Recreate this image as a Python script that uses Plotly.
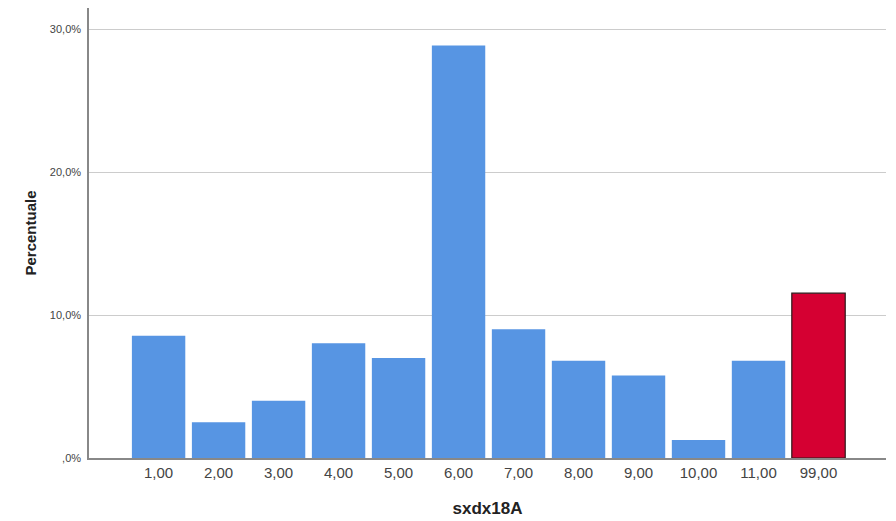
import plotly.graph_objects as go

categories = ["1,00", "2,00", "3,00", "4,00", "5,00", "6,00", "7,00", "8,00", "9,00", "10,00", "11,00", "99,00"]
percentages = [8.55, 2.5, 4.0, 8.04, 7.0, 28.87, 9.02, 6.8, 5.77, 1.26, 6.8, 11.54]
y_tick_vals = [0, 10, 20, 30]
y_tick_text = [",0%", "10,0%", "20,0%", "30,0%"]

blue = "#5795E3"
red = "#D50032"
colors = [blue] * 11 + [red]
line_colors = [blue] * 11 + ["#2a1a1a"]
line_widths = [0] * 11 + [1.2]

fig = go.Figure(go.Bar(
    x=categories,
    y=percentages,
    marker=dict(color=colors, line=dict(color=line_colors, width=line_widths)),
    hoverinfo="skip",
))

fig.update_layout(
    width=896, height=521,
    margin=dict(l=81, r=18, t=0, b=71, autoexpand=False),
    paper_bgcolor="white", plot_bgcolor="white",
    bargap=0.11,
    showlegend=False,
    font=dict(family="Liberation Sans, Arial, sans-serif", color="#333333"),
)

fig.update_xaxes(
    type="category",
    range=[-1.16, 12.125],
    showline=True, linecolor="#888888", linewidth=1.5,
    showgrid=False, ticks="",
    tickfont=dict(size=15, color="#444444"),
    title=dict(text="<b>sxdx18A</b>", font=dict(size=17, color="#222222"), standoff=22),
)
fig.update_yaxes(
    range=[0, 31.5],
    tickvals=y_tick_vals, ticktext=y_tick_text,
    showline=True, linecolor="#888888", linewidth=1.5,
    showgrid=True, gridcolor="#CCCCCC", gridwidth=1.2,
    zeroline=False, ticks="outside", ticklen=4, tickcolor="white",
    tickfont=dict(size=11, color="#444444"),
    title=dict(text="<b>Percentuale</b>", font=dict(size=15, color="#222222"), standoff=10),
)

fig.write_html("out.html")
